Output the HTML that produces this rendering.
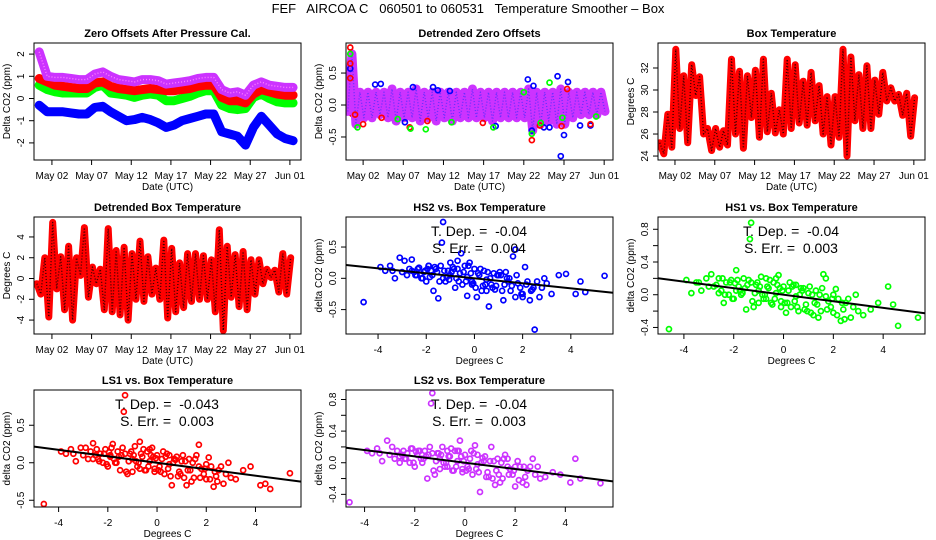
<!DOCTYPE html>
<html><head><meta charset="utf-8">
<style>
html,body{margin:0;padding:0;background:#fff;}
svg{display:block;font-family:"Liberation Sans",Arial,sans-serif;}
</style></head>
<body>
<svg id="chart" width="936" height="540" viewBox="0 0 936 540" xmlns="http://www.w3.org/2000/svg">
<rect x="0" y="0" width="936" height="540" fill="#fff"/>
<text x="468" y="13" font-size="13" text-anchor="middle" style="white-space:pre" xml:space="preserve">FEF   AIRCOA C   060501 to 060531   Temperature Smoother – Box</text>
</svg>
<script>
// ---------- data ----------
const zoLS2 = [2.1,1.0,0.95,0.95,0.9,0.85,0.85,1.1,1.2,1.0,0.85,0.8,0.75,0.85,0.85,0.8,0.65,0.7,0.75,0.8,0.9,0.95,0.95,0.4,0.25,0.3,0.15,0.6,0.75,0.6,0.55,0.5,0.5];
const zoLS1 = [0.9,0.75,0.6,0.55,0.5,0.45,0.45,0.7,0.75,0.55,0.45,0.4,0.35,0.4,0.45,0.4,0.35,0.35,0.4,0.45,0.55,0.6,0.6,0.05,-0.1,-0.1,-0.2,0.2,0.4,0.3,0.2,0.15,0.15];
const zoHS1 = [0.6,0.4,0.3,0.25,0.25,0.25,0.25,0.5,0.6,0.25,0.2,0.15,0.05,0.15,0.2,0.15,-0.1,-0.1,0.0,0.1,0.25,0.35,0.35,-0.3,-0.45,-0.5,-0.45,0.05,0.2,0.0,-0.15,-0.2,-0.2];
const zoHS2 = [-0.3,-0.6,-0.6,-0.6,-0.65,-0.7,-0.7,-0.4,-0.35,-0.6,-0.8,-1.0,-0.95,-0.85,-0.95,-1.1,-1.3,-1.2,-1.0,-0.9,-0.8,-0.7,-0.7,-1.5,-1.6,-1.7,-2.1,-1.3,-0.8,-1.2,-1.6,-1.8,-1.9];
const dzLS2 = [-0.1,0.8,-0.3,0.2,-0.2,0.2,-0.2,0.2,-0.15,0.2,-0.2,0.25,-0.25,0.2,-0.2,0.2,-0.2,0.25,-0.25,0.2,-0.2,0.2,-0.25,0.2,-0.2,0.2,-0.25,0.2,-0.2,0.2,-0.2,0.25,-0.2,0.2,-0.2,0.2,-0.25,0.2,-0.2,0.2,-0.2,0.2,-0.2,0.2,-0.2,0.25,-0.4,0.2,-0.3,0.2,-0.25,0.2,-0.3,0.25,-0.3,0.2,-0.2,0.2,-0.15,0.2,-0.15,0.2,-0.15,0.2,-0.1];
const dzLS1 = [-0.1,-0.15,-0.2,-0.1,-0.15,-0.05,-0.1,0.0,-0.1,0.05,-0.15,0.0,-0.2,0.05,-0.15,0.0,-0.1,0.05,-0.2,0.0,-0.1,0.05,-0.15,0.0,-0.1,0.05,-0.1,0.0,-0.12,0.05,-0.1,0.0,-0.12,0.1,-0.1,0.05,-0.15,0.1,-0.1,0.05,-0.1,0.1,-0.15,0.05,-0.1,0.1,-0.3,0.05,-0.15,0.0,-0.1,0.05,-0.15,0.0,-0.1,0.05,-0.1,0.0,-0.05,0.05,-0.1,0.0,-0.05,0.05,-0.05];
const dzBlueDays = [-0.6,2.5,3.2,6.2,7.2,9.7,10.3,11.8,17.5,21.5,22.2,23.5,24.2,25.2,25.6,26.0,26.5,28.0,29.3,22.0];
const dzBlueVals = [0.57,0.32,0.33,-0.27,0.28,0.28,0.23,0.22,-0.33,0.4,0.3,-0.35,-0.35,0.45,-0.8,-0.47,0.36,-0.32,-0.32,-0.4];
const dzRedDays = [-0.6,-0.6,-0.6,0,1.0,3.3,6.8,9.0,15.9,22.0,23.0,25.7,26.4,29.3];
const dzRedVals = [0.9,0.65,0.42,-0.15,-0.3,-0.2,-0.35,-0.25,-0.28,-0.55,-0.32,-0.33,0.25,-0.3];
const dzGreenDays = [-0.6,0.3,5.3,6.9,8.8,12.0,17.2,22.0,23.1,24.2,25.8,30.0,21.0];
const dzGreenVals = [0.8,-0.35,-0.22,-0.37,-0.38,-0.27,-0.35,-0.45,-0.28,0.35,-0.2,-0.18,0.2];
const boxTemp = [25.2,24.2,27.8,24.8,33.7,26.5,31.3,25.2,32.3,29.5,31.2,26.0,26.5,24.5,26.5,24.8,26.3,25.0,32.8,26.0,31.7,24.7,31.3,27.5,31.8,25.7,32.8,26.2,29.7,26.1,28.2,26.0,32.8,26.5,32.3,27.0,30.8,26.8,31.6,27.2,30.4,26.0,29.4,25.0,29.4,25.7,33.7,24.0,33.0,27.2,31.4,26.5,32.2,26.5,30.9,27.8,31.6,29.0,30.2,29.0,29.6,27.7,29.7,25.8,29.3];
const detTemp = [-0.5,-1.5,2.0,-3.7,5.4,-1.0,2.1,-3.0,3.1,-4.0,2.0,0.3,4.9,-1.8,1.1,-0.5,0.9,-3.0,4.8,-3.2,2.7,-3.5,3.0,-4.0,2.4,-2.0,3.6,-2.2,2.1,-1.5,1.0,-2.0,3.7,-3.8,2.9,-3.2,1.5,-2.8,2.4,-2.2,2.4,-2.0,2.2,-2.0,1.8,-3.2,4.7,-5.0,3.1,-1.8,2.3,-2.7,2.6,-3.0,1.8,-1.5,1.8,-0.5,0.9,0.1,0.8,-1.3,2.4,-1.5,2.0];
const scX = [-4.6,-3.9,-3.7,-3.5,-3.3,-3.1,-3.0,-2.9,-2.7,-2.6,-2.4,-2.3,-2.1,-2.0,-1.9,-1.8,-1.7,-1.6,-1.5,-1.4,-1.3,-1.2,-1.1,-1.0,-0.9,-0.8,-0.7,-0.6,-0.5,-0.4,-0.3,-0.2,-0.1,0.0,0.1,0.2,0.3,0.4,0.5,0.6,0.8,0.9,1.0,1.2,1.3,1.5,1.6,1.8,2.0,2.1,2.3,2.5,2.7,2.9,3.2,3.5,3.8,4.2,4.6,5.4,
 -3.4,-2.8,-2.5,-2.2,-1.95,-1.75,-1.55,-1.35,-1.15,-0.95,-0.75,-0.55,-0.35,-0.15,0.05,0.25,0.45,0.65,0.85,1.05,1.25,1.45,1.7,1.9,2.2,2.4,2.6,2.8,3.0,4.4,
 -2.45,-2.35,-2.15,-2.05,-1.85,-1.65,-1.45,-1.25,-1.05,-0.85,-0.65,-0.45,-0.25,-0.05,0.15,0.35,0.55,0.75,0.95,1.15,1.35,1.55,1.75,1.95,2.15,2.35,-1.9,-1.3,-0.7,-0.1,0.5,1.1,1.7,2.45,-2.6,-1.0,0.7,1.4,2.0,-0.3];
const scHS2 = [-0.38,0.18,0.12,0.2,0.0,0.33,0.1,0.28,0.15,0.3,0.05,0.17,0.1,-0.05,0.2,0.12,-0.2,0.15,-0.32,0.2,0.9,-0.05,0.12,0.05,0.18,-0.15,0.28,0.08,-0.1,0.2,-0.28,0.25,-0.05,0.15,-0.3,0.05,-0.2,0.12,-0.02,-0.45,0.08,-0.12,0.05,-0.35,0.1,-0.2,0.35,-0.08,-0.25,0.18,-0.35,-0.82,-0.3,0.0,-0.25,0.05,0.07,-0.25,-0.22,0.04,
 0.12,0.05,0.1,0.0,0.15,0.05,0.1,0.57,0.02,0.1,0.0,0.4,-0.05,0.08,-0.15,0.15,-0.1,0.0,-0.18,0.1,-0.1,0.0,0.46,-0.15,-0.05,-0.18,-0.05,-0.15,-0.08,-0.05,
 0.05,0.15,0.0,0.12,0.02,0.18,-0.05,0.12,-0.02,0.15,-0.05,0.1,0.2,-0.08,0.08,-0.12,0.1,-0.15,0.05,-0.2,0.0,-0.12,0.05,-0.25,-0.1,-0.2,0.2,0.0,0.15,-0.1,-0.2,0.05,-0.3,-0.15,0.12,0.25,-0.1,-0.05,-0.3,0.02];
const scHS1 = [-0.42,0.18,0.02,0.15,0.05,0.2,0.1,0.25,0.12,0.2,-0.1,0.15,0.18,-0.05,0.3,0.1,0.0,0.2,-0.18,0.18,0.88,-0.15,0.12,0.05,0.22,-0.05,0.2,0.08,-0.1,0.15,0.02,0.24,-0.08,0.1,-0.22,0.05,-0.15,0.12,-0.02,-0.2,0.08,-0.12,0.02,-0.25,0.05,-0.2,0.25,-0.08,-0.22,0.07,-0.32,-0.1,-0.28,0.0,-0.25,-0.18,-0.1,0.1,-0.38,-0.28,
 0.15,0.1,0.05,0.0,0.14,0.05,0.08,0.68,0.02,0.1,0.0,0.18,-0.05,0.08,-0.1,0.15,-0.08,0.0,-0.18,0.1,-0.1,0.0,0.2,-0.15,-0.05,-0.18,-0.05,-0.15,-0.2,-0.12,
 0.2,0.0,0.15,-0.05,0.18,0.02,0.12,-0.08,0.15,0.0,0.1,-0.12,0.12,0.05,-0.1,0.1,-0.15,0.05,-0.2,0.0,-0.12,0.08,-0.18,-0.05,-0.25,-0.1,0.05,0.15,-0.05,-0.15,0.12,-0.22,-0.02,-0.3,0.02,-0.1,0.08,-0.28,0.0,0.2];
const scLS1 = [-0.55,0.15,0.12,0.18,0.02,0.2,0.1,0.2,0.15,0.26,0.05,0.12,0.18,-0.05,0.1,0.25,0.0,0.15,-0.1,0.2,0.9,-0.15,0.12,0.05,0.22,-0.05,0.28,0.08,-0.1,0.15,0.02,0.2,-0.08,0.1,-0.05,0.05,-0.15,0.12,-0.02,-0.3,0.08,-0.12,0.02,-0.3,0.05,-0.2,0.1,-0.08,-0.22,0.07,-0.32,-0.1,-0.28,0.0,-0.22,-0.1,-0.05,-0.3,-0.35,-0.14,
 0.12,0.05,0.1,0.0,0.14,0.05,0.08,0.68,0.02,0.1,0.0,0.18,-0.05,0.08,-0.1,0.15,-0.08,0.0,-0.18,0.1,-0.1,0.0,0.24,-0.15,-0.05,-0.18,-0.05,-0.15,-0.2,-0.28,
 0.18,0.02,0.12,-0.02,0.2,0.0,0.1,-0.12,0.15,0.02,0.12,-0.1,0.1,0.06,-0.12,0.08,-0.18,0.04,-0.15,0.02,-0.1,0.05,-0.2,-0.08,-0.22,-0.12,0.08,0.12,-0.08,-0.12,0.1,-0.2,-0.05,-0.25,0.05,-0.12,0.05,-0.25,-0.02,0.18];
const scLS2 = [-0.5,0.15,0.12,0.18,0.02,0.28,0.1,0.2,0.15,0.0,0.05,0.12,0.18,-0.05,0.1,0.15,0.0,0.15,-0.2,0.2,0.88,-0.15,0.12,0.05,0.2,-0.05,0.15,0.08,-0.1,0.15,0.02,0.28,-0.08,0.1,-0.05,0.05,-0.15,0.22,-0.02,-0.37,0.08,-0.12,0.02,-0.28,0.05,-0.2,0.1,-0.08,-0.3,0.02,-0.25,-0.1,0.05,-0.05,-0.18,-0.12,-0.15,-0.25,-0.2,-0.26,
 0.12,0.05,0.1,0.0,0.14,0.05,0.08,0.75,0.02,0.1,0.0,0.18,-0.05,0.08,-0.1,0.15,-0.08,0.0,-0.18,0.2,-0.1,0.0,0.05,-0.15,-0.05,-0.18,-0.05,-0.15,-0.2,0.05,
 0.15,0.05,0.18,0.0,0.15,0.05,0.1,-0.1,0.12,0.0,0.08,-0.1,0.15,0.02,-0.08,0.12,-0.12,0.02,-0.18,0.02,-0.15,0.05,-0.15,-0.1,-0.22,-0.05,0.1,0.12,-0.05,-0.12,0.1,-0.2,-0.05,-0.28,0.08,-0.08,0.06,-0.25,-0.05,0.15];
const slopes = {HS2:-0.04, HS1:-0.04, LS1:-0.043, LS2:-0.04};
const tdepText = {HS2:"-0.04", HS1:"-0.04", LS1:"-0.043", LS2:"-0.04"};
const serrText = {HS2:"0.004", HS1:"0.003", LS1:"0.003", LS2:"0.003"};
const dateTicks = [1,6,11,16,21,26,31];
const dateLabels = ["May 02","May 07","May 12","May 17","May 22","May 27","Jun 01"];
const tempTicks = [-4,-2,0,2,4];

// ---------- helpers ----------
const NS = "http://www.w3.org/2000/svg";
const svg = document.getElementById("chart");
function mk(tag, attrs, parent) {
  const e = document.createElementNS(NS, tag);
  for (const k in attrs) e.setAttribute(k, attrs[k]);
  (parent || svg).appendChild(e);
  return e;
}
const colors = {HS2:"#0000ff", HS1:"#00ff00", LS1:"#ff0000", LS2:"#cc33ff"};

function makePanel(name, left, top, xd, yd) {
  const w = 267, h = 117;
  const g = mk("g", {});
  
  
  const p = {g, left, top, w, h,
    sx: v => left + (v - xd[0]) / (xd[1] - xd[0]) * w,
    sy: v => top + h - (v - yd[0]) / (yd[1] - yd[0]) * h};
  const cid = "clip-" + name;
  const cp = mk("clipPath", {id: cid}, g);
  mk("rect", {x: left, y: top, width: w, height: h}, cp);
  p.plot = mk("g", {"clip-path": "url(#" + cid + ")"}, g);
  
  
  return p;
}
function frame(p, title, xlabel, ylabel, xticks, xlabels, yticks, ylabels) {
  const {g, left, top, w, h} = p;
  const box = mk("rect", {x: left, y: top, width: w, height: h, fill: "none", stroke: "#000", "stroke-width": 1}, g);
  
  
  const t = mk("text", {x: left + w / 2, y: top - 6, "font-size": 11, "font-weight": "bold", "text-anchor": "middle"}, g);
  t.textContent = title;
  
  
  xticks.forEach((v, i) => {
    const x = p.sx(v);
    mk("line", {x1: x, x2: x, y1: top + h, y2: top + h + 5, stroke: "#000"}, g);
    const l = mk("text", {x: x, y: top + h + 19, "font-size": 10, "text-anchor": "middle"}, g);
    l.textContent = xlabels[i];
    
    
  });
  yticks.forEach((v, i) => {
    const y = p.sy(v);
    mk("line", {x1: left - 5, x2: left, y1: y, y2: y, stroke: "#000"}, g);
    if (ylabels[i] !== "") {
      const l = mk("text", {x: left - 10, y: y, "font-size": 10, "text-anchor": "middle", transform: "rotate(-90 " + (left - 10) + " " + y + ")"}, g);
      l.textContent = ylabels[i];
      
      
    }
  });
  const xl = mk("text", {x: left + w / 2, y: top + h + 30, "font-size": 10, "text-anchor": "middle"}, g);
  xl.textContent = xlabel;
  
  
  const yx = left - 24, yy = top + h / 2;
  const yl = mk("text", {x: yx, y: yy, "font-size": 10, "text-anchor": "middle", transform: "rotate(-90 " + yx + " " + yy + ")"}, g);
  yl.textContent = ylabel;
  
  
}
function series(p, name, t0, step, vals, color, width, texture) {
  const pts = vals.map((v, i) => p.sx(t0 + step * i).toFixed(1) + "," + p.sy(v).toFixed(1)).join(" ");
  const pl = mk("polyline", {points: pts, fill: "none", stroke: color, "stroke-width": width, "stroke-linejoin": "round", "stroke-linecap": "round"}, p.plot);
  
  
  if (texture) {
    const tx = mk("polyline", {points: pts, fill: "none", stroke: texture, "stroke-width": 1.4, "stroke-dasharray": "1 2", "stroke-linejoin": "round"}, p.plot);
    
    
  }
}
function points(p, name, xs, ys, color) {
  xs.forEach((x, i) => {
    const c = mk("circle", {cx: p.sx(x), cy: p.sy(ys[i]), r: 2.5, fill: "none", stroke: color, "stroke-width": 1.7}, p.plot);
    
    
  });
}

// ---------- panel 1 ----------
const p1 = makePanel("zero-offsets", 34, 43, [-1.26, 32.4], [-2.77, 2.5]);
series(p1, "series-hs2", -0.6, 1, zoHS2, colors.HS2, 9);
series(p1, "series-hs1", -0.6, 1, zoHS1, colors.HS1, 9);
series(p1, "series-ls1", -0.6, 1, zoLS1, colors.LS1, 9);
series(p1, "series-ls2", -0.6, 1, zoLS2, colors.LS2, 9, "#ff80ff");
frame(p1, "Zero Offsets After Pressure Cal.", "Date (UTC)", "Delta CO2 (ppm)", dateTicks, dateLabels, [-2,-1,0,1,2], ["-2","-1","0","1","2"]);

// ---------- panel 2 ----------
const p2 = makePanel("detrended-zero-offsets", 346, 43, [-1.13, 32.1], [-0.86, 0.97]);
series(p2, "series-ls1", -0.9, 0.5, dzLS1, colors.LS1, 5);
series(p2, "series-ls2", -0.9, 0.5, dzLS2, colors.LS2, 9, "#6a2dff");
points(p2, "outlier-hs2", dzBlueDays, dzBlueVals, colors.HS2);
points(p2, "outlier-ls1", dzRedDays, dzRedVals, colors.LS1);
points(p2, "outlier-hs1", dzGreenDays, dzGreenVals, colors.HS1);
frame(p2, "Detrended Zero Offsets", "Date (UTC)", "Delta CO2 (ppm)", dateTicks, dateLabels, [-0.5,0,0.5], ["-0.5","0.0","0.5"]);

// ---------- panel 3 ----------
const p3 = makePanel("box-temperature", 658, 43, [-1.13, 32.4], [23.64, 34.27]);
series(p3, "series-box-temp", -0.9, 0.5, boxTemp, "#ff0000", 7, "#3a0000");
frame(p3, "Box Temperature", "Date (UTC)", "Degrees C", dateTicks, dateLabels, [24,26,28,30,32], ["24","26","28","30","32"]);

// ---------- panel 4 ----------
const p4 = makePanel("detrended-box-temperature", 34, 217, [-1.26, 32.4], [-5.34, 5.92]);
series(p4, "series-detrended-temp", -0.9, 0.5, detTemp, "#ff0000", 7, "#3a0000");
frame(p4, "Detrended Box Temperature", "Date (UTC)", "Degrees C", dateTicks, dateLabels, [-4,-2,0,2,4], ["-4","-2","0","2","4"]);

// ---------- scatter panels ----------
function scatter(key, left, top, xd, yd, ys, yticks, ylabels) {
  const p = makePanel(key.toLowerCase() + "-vs-temperature", left, top, xd, yd);
  points(p, "point-" + key.toLowerCase(), scX, ys, colors[key]);
  const ln = mk("line", {x1: p.sx(xd[0]), y1: p.sy(slopes[key] * xd[0]), x2: p.sx(xd[1]), y2: p.sy(slopes[key] * xd[1]), stroke: "#000", "stroke-width": 2}, p.plot);
  
  
  const t1 = mk("text", {x: left + 133, y: top + 19, "font-size": 14, "text-anchor": "middle", style: "white-space:pre"}, p.g);
  t1.textContent = "T. Dep. =  " + tdepText[key];
  
  
  const t2 = mk("text", {x: left + 133, y: top + 36, "font-size": 14, "text-anchor": "middle", style: "white-space:pre"}, p.g);
  t2.textContent = "S. Err. =  " + serrText[key];
  
  
  frame(p, key + " vs. Box Temperature", "Degrees C", "delta CO2 (ppm)", tempTicks, tempTicks.map(String), yticks, ylabels);
}
scatter("HS2", 346, 217, [-5.33, 5.75], [-0.89, 0.98], scHS2, [-0.5,0,0.5], ["-0.5","0.0","0.5"]);
scatter("HS1", 658, 217, [-5.04, 5.68], [-0.48, 0.95], scHS1, [-0.4,-0.2,0,0.2,0.4,0.6,0.8], ["-0.4","","0.0","","0.4","","0.8"]);
scatter("LS1", 34, 390, [-5.0, 5.85], [-0.59, 0.97], scLS1, [-0.5,0,0.5], ["-0.5","0.0","0.5"]);
scatter("LS2", 346, 390, [-4.74, 5.9], [-0.56, 0.92], scLS2, [-0.4,-0.2,0,0.2,0.4,0.6,0.8], ["-0.4","","0.0","","0.4","","0.8"]);
</script>
</body></html>
